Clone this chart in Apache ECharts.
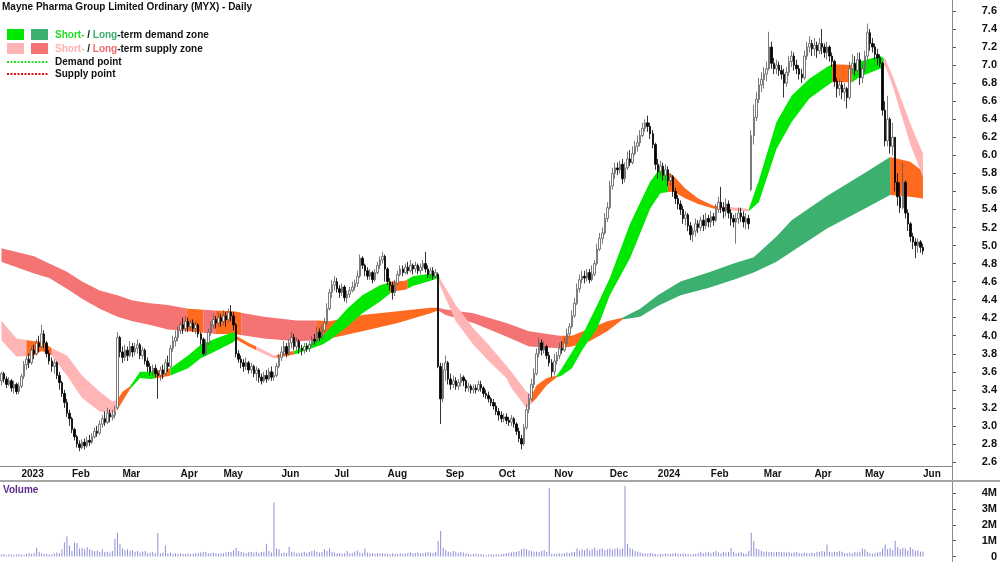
<!DOCTYPE html>
<html>
<head>
<meta charset="utf-8">
<title>MYX - Daily</title>
<script src="https://cdn.jsdelivr.net/npm/echarts@6/dist/echarts.min.js"></script>
<style>
  html, body { margin: 0; padding: 0; background: #fff; }
  #chart { width: 1000px; height: 562px; }
</style>
</head>
<body>
<div id="chart"></div>
<script>
// trading calendar (ASX) - first day shown and exchange holidays
const firstDay = '2022-12-19';
const holidays = ['2022-12-26', '2022-12-27', '2023-01-02', '2023-01-26', '2023-04-07', '2023-04-10',
    '2023-04-25', '2023-06-12', '2023-12-25', '2023-12-26', '2024-01-01', '2024-01-26',
    '2024-03-29', '2024-04-01', '2024-04-25'];
const slotCount = 377; // trading days incl. empty space on the right
const monthNames = ['Jan', 'Feb', 'Mar', 'Apr', 'May', 'Jun', 'Jul', 'Aug', 'Sep', 'Oct', 'Nov', 'Dec'];

// daily prices
const opens = [3.50,3.58,3.52,3.46,3.50,3.42,3.46,3.38,
 3.44,3.55,3.68,3.74,3.70,3.84,3.80,3.92,3.88,4.02,3.92,3.80,3.72,3.66,3.70,3.56,3.48,3.36,3.26,3.14,
 3.08,2.96,2.88,2.80,2.76,2.82,2.78,2.84,2.82,2.88,2.94,2.92,3.02,3.08,3.04,3.14,3.10,3.12,3.20,3.98,
 3.82,3.76,3.84,3.78,3.88,3.82,3.86,3.90,3.78,3.84,3.72,3.66,3.60,3.64,3.58,3.56,3.62,3.58,3.70,3.66,3.86,3.94,3.98,
 4.06,4.12,4.08,4.16,4.10,4.14,4.08,4.12,4.02,3.96,3.80,3.92,4.04,4.12,4.18,4.14,4.20,
 4.16,4.22,4.18,4.26,4.22,4.12,3.80,3.74,3.70,3.66,3.70,3.62,3.66,3.58,3.62,3.54,3.50,3.56,3.52,3.60,3.54,3.56,3.66,
 3.76,3.82,3.88,3.80,3.92,3.98,3.88,3.94,3.86,3.84,3.88,3.86,3.90,3.96,3.94,4.04,3.98,4.06,4.14,4.30,4.48,
 4.56,4.60,4.52,4.48,4.54,4.42,4.46,4.50,4.54,4.58,4.66,4.86,4.78,4.72,4.66,4.70,4.62,4.70,4.78,4.84,4.88,
 4.74,4.60,4.56,4.48,4.58,4.68,4.74,4.70,4.76,4.72,4.78,4.74,4.78,4.72,4.76,4.80,4.74,4.68,4.72,4.66,4.68,3.66,3.30,
 3.62,3.70,3.52,3.46,3.50,3.44,3.48,3.54,3.50,3.42,3.44,3.40,3.42,3.40,3.46,3.42,3.36,3.34,3.30,3.26,3.22,
 3.16,3.12,3.08,3.10,3.06,3.04,3.08,3.02,2.94,2.86,2.80,2.98,3.18,3.30,3.46,3.58,3.80,3.92,3.84,3.88,3.78,3.70,
 3.60,3.72,3.78,3.86,3.84,3.92,4.02,4.10,4.22,4.36,4.52,4.62,4.66,4.64,4.70,4.62,4.68,4.80,4.96,5.08,5.14,5.30,
 5.42,5.66,5.80,5.86,5.84,5.90,5.74,5.86,5.96,5.92,6.02,6.10,6.14,6.22,6.30,6.36,6.32,6.24,6.12,
 5.90,5.82,5.88,5.78,5.84,5.72,5.76,5.60,5.52,5.46,5.40,5.30,5.34,5.22,5.12,5.16,5.24,5.20,5.28,5.22,5.30,
 5.26,5.32,5.28,5.40,5.48,5.42,5.38,5.46,5.36,5.30,5.26,5.30,5.36,5.32,5.26,5.30,5.62,6.22,6.42,6.62,6.78,
 6.84,6.90,6.96,7.20,7.02,6.96,7.00,6.94,6.90,6.80,6.92,7.04,7.10,7.00,6.96,6.90,6.86,7.10,7.20,7.24,
 7.18,7.22,7.16,7.24,7.20,7.14,7.20,7.10,7.04,6.82,6.74,6.78,6.70,6.74,6.64,6.96,7.02,6.94,7.06,6.86,
 6.96,7.10,7.36,7.24,7.20,7.12,7.08,7.02,6.50,6.16,6.40,6.10,6.20,5.70,5.54,5.42,5.70,5.36,5.24,5.10,5.04,5.00,5.04,4.98];

const closes = [3.58,3.52,3.46,3.50,3.42,3.46,3.38,3.44,
 3.55,3.68,3.74,3.70,3.84,3.80,3.92,3.88,4.02,3.92,3.80,3.72,3.66,3.70,3.56,3.48,3.36,3.26,3.14,3.08,
 2.96,2.88,2.80,2.76,2.82,2.78,2.84,2.82,2.88,2.94,2.92,3.02,3.08,3.04,3.14,3.10,3.12,3.16,3.98,3.82,
 3.76,3.84,3.78,3.88,3.82,3.86,3.90,3.78,3.84,3.72,3.66,3.60,3.64,3.58,3.56,3.62,3.58,3.70,3.66,3.86,3.94,3.98,4.06,
 4.12,4.08,4.16,4.10,4.14,4.08,4.12,4.02,3.96,3.80,3.92,4.04,4.12,4.18,4.14,4.20,4.16,
 4.22,4.18,4.26,4.22,4.12,3.80,3.74,3.70,3.66,3.70,3.62,3.66,3.58,3.62,3.54,3.50,3.56,3.52,3.60,3.54,3.56,3.66,3.76,
 3.82,3.88,3.80,3.92,3.98,3.88,3.94,3.86,3.84,3.88,3.86,3.90,3.96,3.94,4.04,3.98,4.06,4.14,4.30,4.48,4.56,
 4.60,4.52,4.48,4.54,4.42,4.46,4.50,4.54,4.58,4.66,4.86,4.78,4.72,4.66,4.70,4.62,4.70,4.78,4.84,4.88,4.74,
 4.60,4.56,4.48,4.58,4.68,4.74,4.70,4.76,4.72,4.78,4.74,4.78,4.72,4.76,4.80,4.74,4.68,4.72,4.66,4.70,3.66,3.30,3.62,
 3.70,3.52,3.46,3.50,3.44,3.48,3.54,3.50,3.42,3.44,3.40,3.42,3.40,3.46,3.42,3.36,3.34,3.30,3.26,3.22,3.16,
 3.12,3.08,3.10,3.06,3.04,3.08,3.02,2.94,2.86,2.80,2.98,3.18,3.30,3.46,3.58,3.80,3.92,3.84,3.88,3.78,3.70,3.60,
 3.72,3.78,3.86,3.84,3.92,4.02,4.10,4.22,4.36,4.52,4.62,4.66,4.64,4.70,4.62,4.68,4.80,4.96,5.08,5.14,5.30,5.42,
 5.66,5.80,5.86,5.84,5.90,5.74,5.86,5.96,5.92,6.02,6.10,6.14,6.22,6.30,6.36,6.32,6.24,6.12,5.90,
 5.82,5.88,5.78,5.84,5.72,5.76,5.60,5.52,5.46,5.40,5.30,5.34,5.22,5.12,5.16,5.24,5.20,5.28,5.22,5.30,5.26,
 5.32,5.28,5.40,5.48,5.42,5.38,5.46,5.36,5.30,5.26,5.30,5.36,5.32,5.26,5.30,5.24,6.22,6.42,6.62,6.78,6.84,
 6.90,6.96,7.20,7.02,6.96,7.00,6.94,6.90,6.80,6.92,7.04,7.10,7.00,6.96,6.90,6.86,7.10,7.20,7.24,7.18,
 7.22,7.16,7.24,7.20,7.14,7.20,7.10,7.04,6.82,6.74,6.78,6.70,6.74,6.64,6.96,7.02,6.94,7.06,6.86,6.96,
 7.10,7.36,7.24,7.20,7.12,7.08,7.02,6.50,6.16,6.40,6.10,6.20,5.70,5.54,5.42,5.70,5.36,5.24,5.10,5.04,5.00,5.04,4.98,4.94];

const lows = [3.45,3.48,3.42,3.44,3.38,3.36,3.35,3.35,
 3.42,3.52,3.62,3.64,3.68,3.74,3.78,3.82,3.86,3.86,3.76,3.68,3.60,3.58,3.52,3.40,3.32,3.20,3.10,3.00,
 2.92,2.84,2.76,2.72,2.74,2.74,2.76,2.78,2.80,2.86,2.88,2.90,2.98,3.00,3.02,3.04,3.06,3.08,3.18,3.76,
 3.70,3.72,3.72,3.76,3.76,3.78,3.80,3.74,3.74,3.68,3.60,3.56,3.56,3.54,3.30,3.50,3.52,3.56,3.60,3.64,3.82,3.88,3.94,
 4.02,4.02,4.04,4.04,4.06,4.04,4.02,3.98,3.90,3.78,3.78,3.90,4.00,4.08,4.08,4.10,4.10,
 4.12,4.10,4.14,4.16,4.06,3.76,3.70,3.64,3.60,3.62,3.58,3.58,3.54,3.50,3.48,3.46,3.48,3.48,3.50,3.50,3.50,3.54,3.64,
 3.72,3.78,3.76,3.78,3.86,3.84,3.84,3.80,3.78,3.80,3.82,3.82,3.88,3.90,3.92,3.94,3.96,4.04,4.12,4.28,4.42,
 4.50,4.48,4.42,4.44,4.38,4.36,4.42,4.48,4.50,4.54,4.64,4.74,4.66,4.62,4.62,4.58,4.60,4.68,4.74,4.80,4.60,
 4.56,4.50,4.40,4.44,4.56,4.66,4.66,4.68,4.68,4.70,4.68,4.70,4.68,4.68,4.72,4.70,4.64,4.64,4.62,4.64,3.64,3.02,3.26,
 3.50,3.46,3.40,3.42,3.40,3.40,3.44,3.44,3.38,3.38,3.36,3.36,3.36,3.38,3.38,3.32,3.30,3.26,3.22,3.18,3.12,
 3.06,3.04,3.04,3.02,3.00,3.00,2.98,2.90,2.82,2.74,2.78,2.96,3.14,3.28,3.42,3.56,3.76,3.78,3.80,3.74,3.66,3.54,
 3.56,3.68,3.74,3.80,3.82,3.90,3.98,4.08,4.20,4.34,4.48,4.58,4.58,4.60,4.58,4.60,4.66,4.78,4.94,5.02,5.12,5.26,
 5.40,5.62,5.74,5.78,5.80,5.68,5.70,5.84,5.88,5.90,6.00,6.04,6.10,6.20,6.26,6.26,6.18,6.08,5.84,
 5.74,5.76,5.72,5.72,5.66,5.66,5.54,5.46,5.40,5.34,5.24,5.22,5.16,5.06,5.04,5.10,5.14,5.16,5.16,5.18,5.20,
 5.20,5.22,5.26,5.36,5.36,5.30,5.32,5.30,5.22,5.20,5.02,5.24,5.26,5.20,5.18,5.18,5.60,6.12,6.38,6.58,6.70,
 6.74,6.82,6.94,6.96,6.90,6.90,6.88,6.84,6.64,6.76,6.88,6.98,6.94,6.90,6.84,6.80,6.84,7.06,7.14,7.10,
 7.10,7.08,7.12,7.12,7.08,7.06,7.04,6.98,6.76,6.64,6.66,6.62,6.60,6.52,6.62,6.90,6.88,6.92,6.78,6.80,
 6.92,7.06,7.16,7.14,7.06,7.00,6.98,6.44,6.10,6.10,6.02,6.00,5.60,5.44,5.36,5.40,5.30,5.16,5.04,4.96,4.86,4.92,4.92,4.90];

const highs = [3.60,3.60,3.55,3.54,3.52,3.50,3.48,3.48,
 3.58,3.72,3.78,3.80,3.88,3.90,3.96,4.00,4.12,4.06,3.94,3.84,3.76,3.74,3.72,3.60,3.50,3.40,3.30,3.18,
 3.10,2.98,2.90,2.84,2.85,2.86,2.88,2.90,2.92,2.98,3.00,3.06,3.12,3.16,3.20,3.18,3.18,3.22,4.04,4.00,
 3.88,3.90,3.88,3.94,3.92,3.92,3.96,3.92,3.88,3.86,3.76,3.70,3.68,3.68,3.62,3.66,3.68,3.74,3.78,3.90,4.00,4.06,4.10,
 4.16,4.20,4.22,4.20,4.18,4.18,4.16,4.14,4.04,3.98,3.96,4.08,4.16,4.24,4.22,4.26,4.24,
 4.28,4.26,4.30,4.34,4.26,4.14,3.84,3.78,3.74,3.76,3.72,3.70,3.68,3.66,3.64,3.58,3.60,3.62,3.64,3.66,3.60,3.70,3.80,
 3.88,3.94,3.92,3.96,4.04,4.02,3.98,3.96,3.90,3.92,3.92,3.94,4.00,4.02,4.10,4.08,4.12,4.20,4.36,4.52,4.62,
 4.66,4.64,4.56,4.58,4.56,4.50,4.54,4.60,4.62,4.72,4.90,4.88,4.80,4.76,4.74,4.72,4.74,4.82,4.88,4.93,4.90,
 4.76,4.64,4.60,4.62,4.72,4.78,4.78,4.80,4.82,4.84,4.80,4.82,4.80,4.80,4.84,4.93,4.78,4.76,4.76,4.74,4.70,3.70,3.70,
 3.78,3.72,3.58,3.56,3.54,3.52,3.58,3.56,3.52,3.48,3.46,3.46,3.46,3.50,3.50,3.44,3.40,3.38,3.32,3.30,3.26,
 3.20,3.16,3.14,3.14,3.10,3.12,3.10,3.04,2.98,2.90,3.02,3.24,3.36,3.52,3.64,3.86,3.98,3.96,3.94,3.90,3.82,3.74,
 3.80,3.82,3.92,3.94,3.98,4.08,4.14,4.28,4.42,4.58,4.68,4.72,4.72,4.74,4.74,4.78,4.84,5.02,5.14,5.20,5.36,5.48,
 5.72,5.86,5.92,5.92,5.94,5.96,5.92,6.04,6.06,6.10,6.16,6.22,6.28,6.36,6.40,6.44,6.36,6.28,6.14,
 5.96,5.94,5.92,5.90,5.88,5.80,5.78,5.64,5.56,5.50,5.44,5.38,5.36,5.26,5.20,5.30,5.28,5.32,5.34,5.36,5.34,
 5.38,5.36,5.46,5.54,5.65,5.48,5.52,5.50,5.40,5.34,5.36,5.42,5.42,5.38,5.36,5.34,6.28,6.56,6.70,6.86,6.92,
 6.98,7.04,7.37,7.26,7.08,7.06,7.04,7.00,6.96,6.98,7.10,7.16,7.14,7.06,7.00,6.96,7.16,7.26,7.32,7.28,
 7.30,7.26,7.30,7.40,7.24,7.26,7.22,7.14,7.06,6.86,6.84,6.82,6.80,6.76,7.04,7.12,7.10,7.14,7.14,7.02,
 7.16,7.46,7.40,7.30,7.24,7.18,7.12,7.04,6.60,6.66,6.42,6.36,6.20,5.80,5.70,5.92,5.72,5.40,5.26,5.14,5.08,5.08,5.06,5.02];

// daily volume, millions of shares
const volumes = [0.12,0.15,0.10,0.14,0.12,0.10,0.13,0.16,
 0.12,0.10,0.15,0.22,0.18,0.20,0.55,0.30,0.20,0.15,0.18,0.14,0.12,0.20,0.25,0.20,0.45,0.90,1.27,0.70,
 0.35,0.86,0.85,0.50,0.55,0.45,0.60,0.45,0.40,0.35,0.40,0.30,0.45,0.30,0.30,0.25,0.35,1.10,1.50,0.80,
 0.50,0.40,0.45,0.35,0.40,0.30,0.35,0.25,0.30,0.35,0.20,0.25,0.30,0.20,1.48,0.20,0.25,0.70,0.20,0.25,0.18,0.20,0.15,
 0.20,0.18,0.15,0.20,0.15,0.18,0.20,0.22,0.25,0.30,0.28,0.20,0.22,0.25,0.20,0.18,0.22,
 0.20,0.25,0.30,0.28,0.40,0.55,0.35,0.30,0.25,0.20,0.30,0.28,0.25,0.30,0.22,0.28,0.30,0.80,0.35,0.25,3.40,0.50,0.45,
 0.20,0.25,0.22,0.60,0.30,0.25,0.20,0.22,0.25,0.30,0.22,0.28,0.35,0.40,0.30,0.25,0.30,0.45,0.35,0.50,0.30,
 0.25,0.20,0.22,0.18,0.20,0.35,0.20,0.22,0.30,0.38,0.25,0.20,0.50,0.25,0.20,0.22,0.18,0.20,0.20,0.22,0.20,
 0.18,0.15,0.20,0.18,0.15,0.20,0.18,0.20,0.22,0.25,0.20,0.22,0.25,0.20,0.22,0.25,0.28,0.25,0.22,0.30,0.96,1.60,0.55,
 0.40,0.30,0.25,0.35,0.30,0.22,0.28,0.25,0.20,0.15,0.12,0.15,0.18,0.12,0.15,0.12,0.10,0.12,0.15,0.12,0.14,
 0.12,0.15,0.18,0.20,0.22,0.25,0.30,0.28,0.35,0.45,0.50,0.48,0.40,0.35,0.30,0.30,0.28,0.35,0.40,0.30,4.30,0.15,
 0.18,0.15,0.20,0.18,0.22,0.25,0.22,0.30,0.28,0.50,0.35,0.45,0.40,0.50,0.38,0.45,0.55,0.40,0.45,0.50,0.40,0.45,
 0.50,0.42,0.48,0.55,0.45,0.50,4.45,0.80,0.55,0.45,0.35,0.30,0.25,0.22,0.20,0.18,0.22,0.20,0.15,
 0.12,0.18,0.15,0.20,0.18,0.15,0.20,0.22,0.18,0.15,0.20,0.18,0.15,0.12,0.15,0.18,0.22,0.30,0.20,0.25,0.30,
 0.22,0.28,0.35,0.25,0.20,0.30,0.25,0.28,0.55,0.30,0.20,0.25,0.30,0.22,0.18,0.35,1.50,0.96,0.50,0.45,0.35,
 0.30,0.32,0.28,0.30,0.25,0.28,0.30,0.25,0.28,0.25,0.30,0.22,0.25,0.28,0.22,0.20,0.25,0.22,0.20,0.25,
 0.22,0.28,0.30,0.35,0.30,0.76,0.30,0.25,0.30,0.28,0.35,0.30,0.22,0.20,0.25,0.20,0.30,0.25,0.30,0.50,
 0.45,0.30,0.20,0.18,0.22,0.25,0.30,0.50,0.76,0.45,0.50,0.40,1.00,0.60,0.45,0.55,0.50,0.40,0.60,0.45,0.35,0.40,0.30,0.32];

// long-term zone edges, read at these day indices
const ltIdx = [0, 13, 19, 26, 32, 39, 46, 52, 59, 66, 74, 85, 92, 104, 117, 125, 130, 143, 157, 170, 173, 176,
    187, 200, 209, 221, 226, 233, 240, 246, 253, 260, 269, 280, 290, 298, 307, 313, 327, 340, 352, 360, 365];
const ltTop = [4.97, 4.88, 4.80, 4.71, 4.60, 4.50, 4.45, 4.39, 4.36, 4.34, 4.30, 4.28, 4.27, 4.21, 4.17, 4.17, 4.16,
    4.23, 4.27, 4.31, 4.31, 4.29, 4.25, 4.14, 4.05, 4.00, 4.00, 4.08, 4.16, 4.20, 4.30, 4.45, 4.60, 4.70, 4.80,
    4.87, 5.10, 5.28, 5.55, 5.77, 5.98, 5.93, 5.82];
const ltBot = [4.82, 4.69, 4.64, 4.52, 4.41, 4.30, 4.21, 4.16, 4.12, 4.07, 4.05, 4.02, 4.02, 3.97, 3.94, 3.95, 3.97,
    4.05, 4.14, 4.25, 4.28, 4.23, 4.14, 3.99, 3.88, 3.86, 3.88, 3.94, 4.05, 4.18, 4.21, 4.33, 4.45, 4.53, 4.62,
    4.70, 4.82, 4.93, 5.19, 5.38, 5.56, 5.54, 5.52];
// short-term zone edges
const stIdx = [0, 6, 13, 16, 20, 26, 32, 39, 44, 46, 48, 51, 55, 59, 64, 67, 74, 79, 85, 92, 93, 98, 104, 108,
    110, 114, 117, 123, 127, 130, 137, 143, 150, 155, 160, 163, 170, 173, 174, 180, 187, 193, 200, 202, 208,
    210, 212, 216, 220, 222, 226, 230, 236, 241, 249, 257, 261, 266, 271, 276, 282, 287, 295, 296, 300, 307,
    313, 320, 327, 329, 337, 340, 348, 350, 353, 360, 365];
const stTop = [4.17, 3.97, 3.94, 3.94, 3.86, 3.78, 3.56, 3.38, 3.27, 3.29, 3.38, 3.44, 3.60, 3.60, 3.62, 3.64,
    3.78, 3.90, 3.97, 4.04, 4.00, 3.92, 3.84, 3.78, 3.79, 3.82, 3.84, 3.92, 3.99, 4.08, 4.30, 4.45, 4.56, 4.60,
    4.61, 4.66, 4.69, 4.69, 4.62, 4.34, 4.08, 3.90, 3.67, 3.60, 3.38, 3.34, 3.45, 3.53, 3.56, 3.64, 3.82, 4.00,
    4.34, 4.64, 5.24, 5.71, 5.86, 5.78, 5.63, 5.52, 5.44, 5.43, 5.41, 5.40, 5.72, 6.37, 6.66, 6.85, 6.98, 7.01,
    7.00, 7.04, 7.10, 7.07, 6.88, 6.35, 6.02];
const stBot = [3.95, 3.77, 3.78, 3.83, 3.78, 3.56, 3.31, 3.16, 3.14, 3.18, 3.27, 3.41, 3.53, 3.52, 3.54, 3.56,
    3.64, 3.75, 3.83, 3.93, 3.96, 3.88, 3.80, 3.75, 3.76, 3.78, 3.80, 3.86, 3.90, 3.95, 4.10, 4.25, 4.38, 4.49,
    4.51, 4.55, 4.61, 4.64, 4.54, 4.16, 3.90, 3.72, 3.53, 3.42, 3.20, 3.25, 3.31, 3.45, 3.54, 3.56, 3.64, 3.84,
    4.08, 4.45, 4.86, 5.41, 5.58, 5.60, 5.52, 5.46, 5.41, 5.39, 5.38, 5.38, 5.48, 6.07, 6.37, 6.63, 6.77, 6.81,
    6.81, 6.87, 6.96, 6.99, 6.77, 6.12, 5.76];

// zone state over day ranges: demand / supply / mixed
const ltZones = [[0, 73.5, 'supply'], [73.5, 80, 'mixed'], [80, 85, 'supply'], [85, 95, 'mixed'],
    [95, 125, 'supply'], [125, 173, 'mixed'], [173, 222, 'supply'], [222, 246, 'mixed'],
    [246, 352, 'demand'], [352, 400, 'mixed']];
const stZones = [[0, 10, 'supply'], [10, 20, 'mixed'], [20, 46, 'supply'], [46, 51, 'mixed'],
    [51, 61, 'demand'], [61, 67, 'mixed'], [67, 93, 'demand'], [93, 101, 'mixed'], [101, 109, 'supply'],
    [109, 116, 'mixed'], [116, 154, 'demand'], [154, 161, 'mixed'], [161, 173.5, 'demand'],
    [173.5, 210, 'supply'], [210, 220, 'mixed'], [220, 264, 'demand'], [264, 284, 'mixed'],
    [284, 296, 'supply'], [296, 329, 'demand'], [329, 337, 'mixed'], [337, 349.5, 'demand'],
    [349.5, 400, 'supply']];

const ltColors = { demand: '#3cb06f', supply: '#f47474', mixed: '#ff6a1e' };
const stColors = { demand: '#00e800', supply: '#ffb5b5', mixed: '#ff6a1e' };
const FONT = '"Liberation Sans", Arial, sans-serif';

// build the trading day list
const dates = [];
let day = new Date(firstDay + 'T00:00:00Z');
while (dates.length < slotCount) {
    const iso = day.toISOString().slice(0, 10);
    const dow = day.getUTCDay();
    if (dow !== 0 && dow !== 6 && holidays.indexOf(iso) < 0) dates.push(iso);
    day = new Date(day.getTime() + 86400000);
}
function isMonthStart(i) {
    return i > 0 && dates[i].slice(5, 7) !== dates[i - 1].slice(5, 7);
}
function monthLabel(iso) {
    const m = +iso.slice(5, 7);
    return m === 1 ? iso.slice(0, 4) : monthNames[m - 1];
}

const candles = closes.map((c, i) => [opens[i], c, lows[i], highs[i]]);

// one polygon per zone state, clipped to the days of that state
function bandRenderer(idx, top, bot, zones, colors) {
    return function (params, api) {
        const zone = zones[params.dataIndex];
        const cs = params.coordSys;
        const bw = api.size([1, 0])[0];
        const xAt = (i) => api.coord([Math.floor(i), 0])[0] + (i - Math.floor(i)) * bw;
        const pts = [];
        for (let j = 0; j < idx.length; j++) pts.push(api.coord([idx[j], top[j]]));
        for (let j = idx.length - 1; j >= 0; j--) pts.push(api.coord([idx[j], bot[j]]));
        const x0 = Math.max(cs.x, xAt(zone[0]));
        const x1 = Math.min(cs.x + cs.width, xAt(zone[1]));
        if (x1 <= x0) return null;
        return {
            type: 'polygon',
            shape: { points: pts },
            style: { fill: colors[zone[2]] },
            clipPath: { type: 'rect', shape: { x: x0, y: cs.y, width: x1 - x0, height: cs.height } }
        };
    };
}
function bandSeries(name, idx, top, bot, zones, colors) {
    return {
        name: name, type: 'custom', xAxisIndex: 0, yAxisIndex: 0, silent: true,
        renderItem: bandRenderer(idx, top, bot, zones, colors),
        encode: { x: 0, y: 1 },
        data: zones.map((z, k) => [k, 5])
    };
}

const chart = echarts.init(document.getElementById('chart'), null, { renderer: 'canvas' });
const labelStyle = { fontFamily: FONT, fontWeight: 'bold', fontSize: 11, color: '#111' };

chart.setOption({
    animation: false,
    backgroundColor: '#ffffff',
    grid: [
        { left: 0, right: 48, top: 11, height: 451 },
        { left: 0, right: 48, top: 493, height: 64.5 }
    ],
    xAxis: [{
        type: 'category', gridIndex: 0, data: dates, boundaryGap: true, offset: 4,
        axisLine: { lineStyle: { color: '#8a8a8a', width: 1 } },
        axisTick: { interval: (i) => isMonthStart(i), length: 4, lineStyle: { color: '#555' } },
        axisLabel: Object.assign({}, labelStyle, {
            fontSize: 10, interval: (i) => isMonthStart(i), formatter: monthLabel,
            align: 'left', margin: 3, hideOverlap: false
        }),
        splitLine: { show: false }
    }, {
        type: 'category', gridIndex: 1, data: dates, boundaryGap: true,
        axisLine: { show: false }, axisTick: { show: false }, axisLabel: { show: false }
    }],
    yAxis: [{
        type: 'value', gridIndex: 0, position: 'right', min: 2.6, max: 7.6, interval: 0.2,
        axisLine: { show: false },
        axisTick: { show: true, length: 4, lineStyle: { color: '#555' } },
        axisLabel: Object.assign({}, labelStyle, {
            align: 'right', margin: 45, padding: [3, 0, 0, 0], formatter: (v) => v.toFixed(1)
        }),
        splitLine: { show: false }
    }, {
        type: 'value', gridIndex: 1, position: 'right', min: 0, max: 4e6, interval: 1e6,
        axisLine: { show: false },
        axisTick: { show: true, length: 4, lineStyle: { color: '#555' } },
        axisLabel: Object.assign({}, labelStyle, {
            align: 'right', margin: 45, formatter: (v) => v === 0 ? '0' : (v / 1e6) + 'M'
        }),
        splitLine: { show: false }
    }],
    series: [
        bandSeries('Long-term zone', ltIdx, ltTop, ltBot, ltZones, ltColors),
        bandSeries('Short-term zone', stIdx, stTop, stBot, stZones, stColors),
        {
            name: 'MYX', type: 'candlestick', xAxisIndex: 0, yAxisIndex: 0, data: candles,
            barWidth: 2, silent: true,
            itemStyle: { color: '#ffffff', color0: '#000000', borderColor: '#5a5a5a', borderColor0: '#000000', borderWidth: 0.8 }
        },
        {
            name: 'Volume', type: 'bar', xAxisIndex: 1, yAxisIndex: 1, barWidth: 1, clip: false, silent: true,
            data: volumes.map(v => Math.round(v * 1e6)),
            itemStyle: { color: '#8e8ed8' }
        }
    ],
    graphic: [
        { type: 'line', shape: { x1: 952.5, y1: 0, x2: 952.5, y2: 562 }, style: { stroke: '#8a8a8a', lineWidth: 1 }, z: 50 },
        { type: 'line', shape: { x1: 0, y1: 481, x2: 1000, y2: 481 }, style: { stroke: '#a6a6a6', lineWidth: 2 }, z: 50 },
        { type: 'text', left: 2, top: 2, style: { text: 'Mayne Pharma Group Limited Ordinary (MYX) - Daily', font: 'bold 10px ' + FONT, fill: '#111' } },
        { type: 'rect', shape: { x: 7, y: 29, width: 17, height: 11 }, style: { fill: stColors.demand } },
        { type: 'rect', shape: { x: 31, y: 29, width: 17, height: 11 }, style: { fill: ltColors.demand } },
        { type: 'rect', shape: { x: 7, y: 43, width: 17, height: 11 }, style: { fill: stColors.supply } },
        { type: 'rect', shape: { x: 31, y: 43, width: 17, height: 11 }, style: { fill: ltColors.supply } },
        {
            type: 'text', x: 55, y: 35, style: {
                text: '{a|Short-} / {b|Long}-term demand zone', font: 'bold 10px ' + FONT, fill: '#111',
                verticalAlign: 'middle',
                rich: { a: { fill: '#22dd22', font: 'bold 10px ' + FONT }, b: { fill: '#3cb06f', font: 'bold 10px ' + FONT } }
            }
        },
        {
            type: 'text', x: 55, y: 49, style: {
                text: '{a|Short-} / {b|Long}-term supply zone', font: 'bold 10px ' + FONT, fill: '#111',
                verticalAlign: 'middle',
                rich: { a: { fill: '#ffb0b0', font: 'bold 10px ' + FONT }, b: { fill: '#f26a6a', font: 'bold 10px ' + FONT } }
            }
        },
        { type: 'line', shape: { x1: 7, y1: 62, x2: 48, y2: 62 }, style: { stroke: '#22dd22', lineWidth: 2, lineDash: [2, 1.5] } },
        { type: 'line', shape: { x1: 7, y1: 74, x2: 48, y2: 74 }, style: { stroke: '#e01010', lineWidth: 2, lineDash: [2, 1.5] } },
        { type: 'text', x: 55, y: 62, style: { text: 'Demand point', font: 'bold 10px ' + FONT, fill: '#111', verticalAlign: 'middle' } },
        { type: 'text', x: 55, y: 74, style: { text: 'Supply point', font: 'bold 10px ' + FONT, fill: '#111', verticalAlign: 'middle' } },
        { type: 'text', x: 3, y: 490, style: { text: 'Volume', font: 'bold 10px ' + FONT, fill: '#5b2a8e', verticalAlign: 'middle' } }
    ]
});
</script>
</body>
</html>
